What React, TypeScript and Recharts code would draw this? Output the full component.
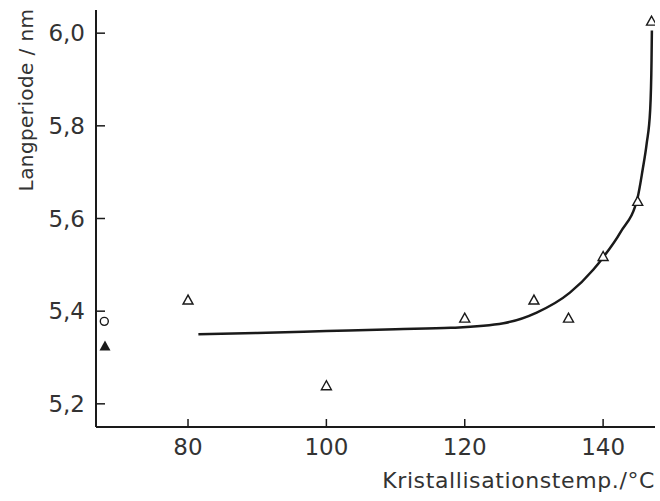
import { ComposedChart, Line, Scatter, XAxis, YAxis } from "recharts";

// measured points (open triangles)
const openTemps = [80, 100, 120, 130, 135, 140, 145, 147];
const openPeriods = [5.424, 5.239, 5.385, 5.424, 5.385, 5.518, 5.637, 6.026];

// single reference points at the far left
const circleTemps = [67.9];
const circlePeriods = [5.378];
const filledTemps = [68];
const filledPeriods = [5.325];

// fitted curve
const curveTemps = [81.5, 90, 100, 110, 118, 125.6, 130.4, 135.2, 138.6, 140, 142.5, 145, 145.7, 146.3, 146.8, 147, 147.05];
const curvePeriods = [5.35, 5.353, 5.357, 5.361, 5.364, 5.374, 5.397, 5.44, 5.49, 5.516, 5.57, 5.646, 5.704, 5.762, 5.834, 5.942, 6.006];

const xTicks = [80, 100, 120, 140];
const yTicks = [5.2, 5.4, 5.6, 5.8, 6.0];

const zip = (xs: number[], ys: number[]) => xs.map((x, i) => ({ x, y: ys[i] }));

const openData = zip(openTemps, openPeriods);
const circleData = zip(circleTemps, circlePeriods);
const filledData = zip(filledTemps, filledPeriods);
const curveData = zip(curveTemps, curvePeriods);

const FONT = "'DejaVu Sans', sans-serif";
const INK = "#1a1a1a";

const OpenTriangle = (p: any) => (
  <path
    d={`M${p.cx},${p.cy - 5} L${p.cx - 5},${p.cy + 4} L${p.cx + 5},${p.cy + 4} Z`}
    fill="#fff"
    stroke={INK}
    strokeWidth={1.4}
  />
);

const FilledTriangle = (p: any) => (
  <path
    d={`M${p.cx},${p.cy - 5.5} L${p.cx - 5.5},${p.cy + 4.5} L${p.cx + 5.5},${p.cy + 4.5} Z`}
    fill={INK}
  />
);

const OpenCircle = (p: any) => (
  <circle cx={p.cx} cy={p.cy} r={4} fill="#fff" stroke={INK} strokeWidth={1.4} />
);

const YTick = ({ x, y, payload }: any) => (
  <g>
    <line x1={x} y1={y} x2={x + 9} y2={y} stroke={INK} strokeWidth={1.5} />
    <text x={x - 11} y={y + 8} textAnchor="end" fontSize={23} fill="#333" fontFamily={FONT}>
      {payload.value.toFixed(1).replace(".", ",")}
    </text>
  </g>
);

const XTick = ({ x, y, payload }: any) => (
  <g>
    <line x1={x} y1={y} x2={x} y2={y - 8} stroke={INK} strokeWidth={1.5} />
    <text x={x} y={y + 28} textAnchor="middle" fontSize={23} fill="#333" fontFamily={FONT}>
      {payload.value}
    </text>
  </g>
);

export default function App() {
  return (
    <div style={{ position: "absolute", left: 0, top: 0, background: "#fff" }}>
      <ComposedChart width={660} height={501} margin={{ top: 10, right: 5, bottom: 0, left: 0 }}>
        <XAxis
          type="number"
          dataKey="x"
          domain={[66.7, 147.5]}
          ticks={xTicks}
          allowDataOverflow
          height={74}
          tickSize={0}
          tickMargin={0}
          tickLine={false}
          axisLine={{ stroke: INK, strokeWidth: 2 }}
          tick={<XTick />}
          label={{
            content: () => (
              <text
                x={655}
                y={488}
                textAnchor="end"
                fontSize={22}
                letterSpacing={0.6}
                fill="#333"
                fontFamily={FONT}
              >
                Kristallisationstemp./°C
              </text>
            ),
          }}
        />
        <YAxis
          type="number"
          dataKey="y"
          domain={[5.15, 6.05]}
          ticks={yTicks}
          allowDataOverflow
          width={96}
          tickSize={0}
          tickMargin={0}
          tickLine={false}
          axisLine={{ stroke: INK, strokeWidth: 2 }}
          tick={<YTick />}
          label={{
            content: () => (
              <text
                x={33}
                y={100}
                transform="rotate(-90 33 100)"
                textAnchor="middle"
                fontSize={20}
                letterSpacing={0.4}
                fill="#333"
                fontFamily={FONT}
              >
                Langperiode / nm
              </text>
            ),
          }}
        />
        <Line
          data={curveData}
          dataKey="y"
          type="monotone"
          stroke={INK}
          strokeWidth={2.5}
          dot={false}
          activeDot={false}
          isAnimationActive={false}
        />
        <Scatter data={openData} dataKey="y" shape={OpenTriangle} isAnimationActive={false} />
        <Scatter data={circleData} dataKey="y" shape={OpenCircle} isAnimationActive={false} />
        <Scatter data={filledData} dataKey="y" shape={FilledTriangle} isAnimationActive={false} />
      </ComposedChart>
    </div>
  );
}
